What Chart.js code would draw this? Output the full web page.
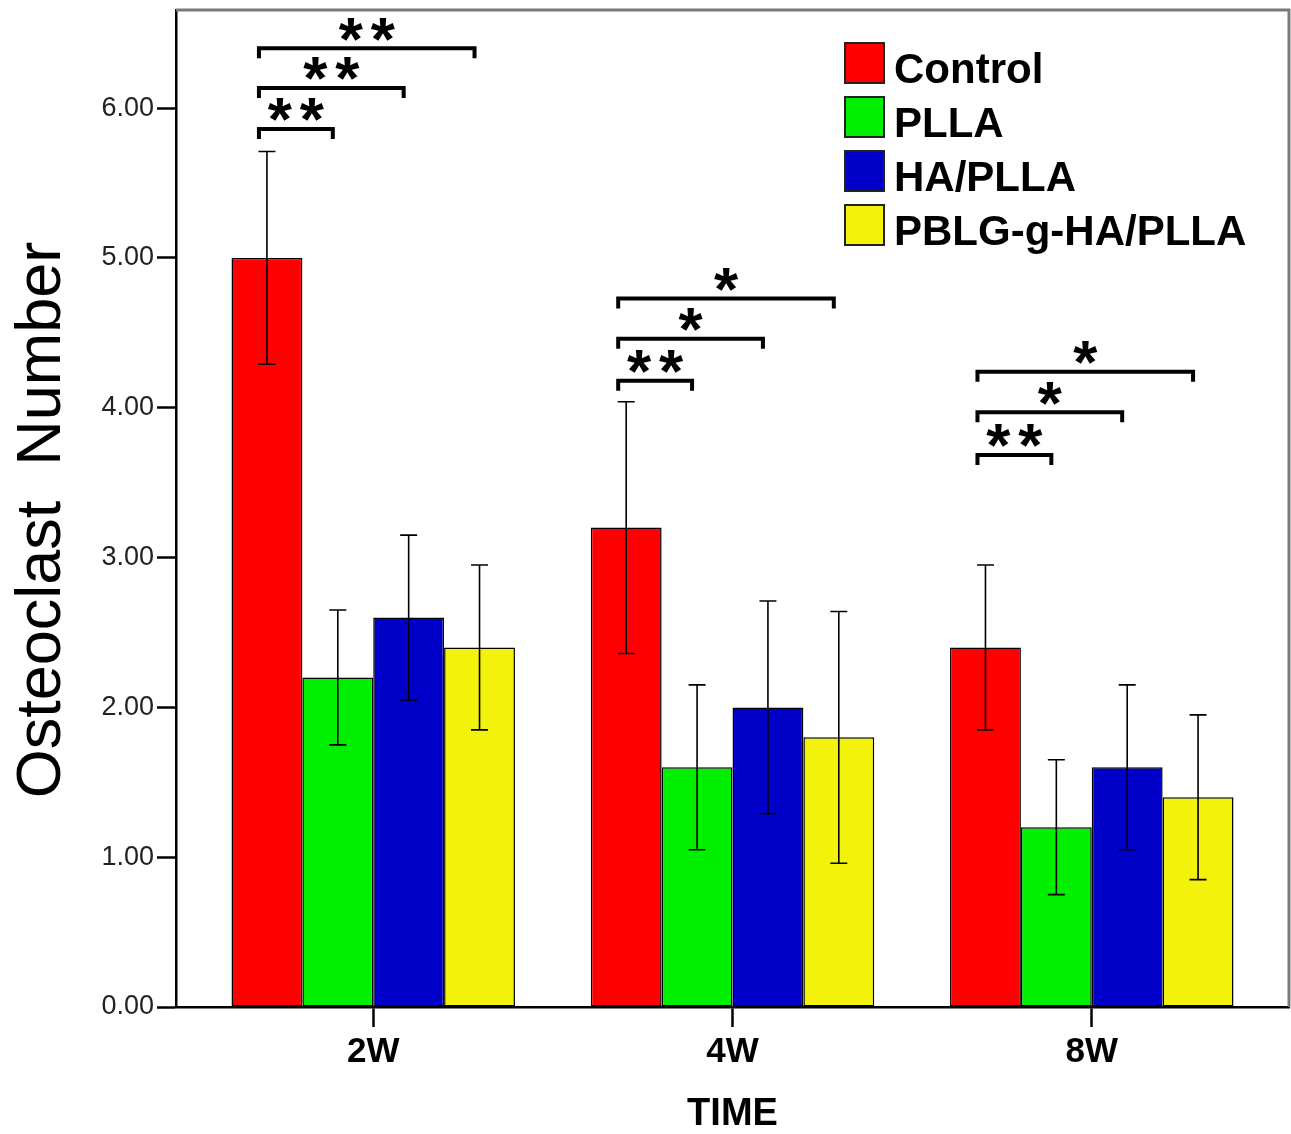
<!DOCTYPE html>
<html><head><meta charset="utf-8">
<script src="https://cdn.jsdelivr.net/npm/chart.js@4.4.1/dist/chart.umd.min.js"></script>
<style>html,body{margin:0;padding:0;background:#fff;overflow:hidden}canvas{display:block}</style>
</head><body>
<canvas id="c" width="1291" height="1134"></canvas>
<script>
const categories = ['2W', '4W', '8W'];
const seriesNames = ['Control', 'PLLA', 'HA/PLLA', 'PBLG-g-HA/PLLA'];
const controlMeans = [5.0, 3.2, 2.4];
const pllaMeans = [2.2, 1.6, 1.2];
const haPllaMeans = [2.6, 2.0, 1.6];
const pblgMeans = [2.4, 1.8, 1.4];
const controlErr = [0.71, 0.84, 0.55];
const pllaErr = [0.45, 0.55, 0.45];
const haPllaErr = [0.55, 0.71, 0.55];
const pblgErr = [0.55, 0.84, 0.55];
const yTicks = [0, 1, 2, 3, 4, 5, 6];
const yMax = 6.655;
const yTitle = 'Osteoclast  Number';
const xTitle = 'TIME';
// significance brackets: Control compared with series 1, 2, 3 at each time point
const sigTargets = [1, 2, 3];
const sigLabels2W = ['**', '**', '**'];
const sigLabels4W = ['**', '*', '*'];
const sigLabels8W = ['**', '*', '*'];
const sigLevels2W = [5.86, 6.135, 6.40];
const sigLevels4W = [4.18, 4.46, 4.73];
const sigLevels8W = [3.685, 3.97, 4.24];

const colors = ['#ff0000', '#00f000', '#0000c8', '#f2f20a'];
const FONT = "'Liberation Sans', Arial, sans-serif";
Chart.defaults.font.family = FONT;

const allMeans = [controlMeans, pllaMeans, haPllaMeans, pblgMeans];
const allErr = [controlErr, pllaErr, haPllaErr, pblgErr];
const sigLabels = [sigLabels2W, sigLabels4W, sigLabels8W];
const sigLevels = [sigLevels2W, sigLevels4W, sigLevels8W];

const datasets = seriesNames.map((name, s) => ({
  label: name,
  data: categories.map((c, i) => ({x: i + 1, y: allMeans[s][i]})),
  errors: allErr[s],
  backgroundColor: colors[s],
  borderColor: '#000',
  borderWidth: 1.5,
  borderSkipped: false,
  categoryPercentage: 0.789,
  barPercentage: 1.0
}));

const errorBarPlugin = {
  id: 'errorBars',
  afterDatasetsDraw(chart) {
    const ctx = chart.ctx, ys = chart.scales.y;
    ctx.save();
    ctx.strokeStyle = '#000';
    ctx.lineWidth = 1.6;
    chart.data.datasets.forEach((ds, s) => {
      const meta = chart.getDatasetMeta(s);
      meta.data.forEach((el, i) => {
        const v = ds.data[i].y, e = ds.errors[i];
        const top = ys.getPixelForValue(v + e), bot = ys.getPixelForValue(v - e);
        const x = el.x, cap = 8.5;
        ctx.beginPath();
        ctx.moveTo(x, top); ctx.lineTo(x, bot);
        ctx.moveTo(x - cap, top); ctx.lineTo(x + cap, top);
        ctx.moveTo(x - cap, bot); ctx.lineTo(x + cap, bot);
        ctx.stroke();
      });
    });
    ctx.restore();
  }
};

const sigPlugin = {
  id: 'sig',
  afterDatasetsDraw(chart) {
    const ctx = chart.ctx, ys = chart.scales.y;
    const m0 = chart.getDatasetMeta(0);
    ctx.save();
    ctx.strokeStyle = '#000';
    ctx.fillStyle = '#000';
    ctx.lineWidth = 4;
    ctx.lineCap = 'butt';
    const fs = 62;
    ctx.font = 'bold ' + fs + 'px ' + FONT;
    ctx.textAlign = 'center';
    ctx.textBaseline = 'alphabetic';
    categories.forEach((c, ci) => {
      sigTargets.forEach((t, k) => {
        const x1 = m0.data[ci].x - 8;
        const x2 = chart.getDatasetMeta(t).data[ci].x - 5;
        const y = ys.getPixelForValue(sigLevels[ci][k]);
        ctx.beginPath();
        ctx.moveTo(x1, y + 10); ctx.lineTo(x1, y); ctx.lineTo(x2, y); ctx.lineTo(x2, y + 10);
        ctx.stroke();
        const label = sigLabels[ci][k];
        const n = label.length, pitch = 32;
        const cx = (x1 + x2) / 2;
        const base = y - 24 + 0.57 * fs;
        for (let j = 0; j < n; j++) {
          ctx.fillText('*', cx + (j - (n - 1) / 2) * pitch, base);
        }
      });
    });
    ctx.restore();
  }
};

const decorPlugin = {
  id: 'decor',
  afterDraw(chart) {
    const ctx = chart.ctx, a = chart.chartArea;
    ctx.save();
    // frame
    ctx.strokeStyle = '#7a7a7a';
    ctx.lineWidth = 3;
    ctx.beginPath();
    ctx.moveTo(a.left, a.top); ctx.lineTo(a.right, a.top); ctx.lineTo(a.right, a.bottom);
    ctx.stroke();
    // legend
    ctx.font = 'bold 42px ' + FONT;
    ctx.textAlign = 'left';
    ctx.textBaseline = 'alphabetic';
    chart.data.datasets.forEach((ds, i) => {
      const bx = a.right - 444, by = a.top + 33 + i * 54;
      ctx.fillStyle = ds.backgroundColor;
      ctx.fillRect(bx, by, 39, 40);
      ctx.strokeStyle = '#222';
      ctx.lineWidth = 2;
      ctx.strokeRect(bx, by, 39, 40);
      ctx.fillStyle = '#000';
      ctx.fillText(ds.label, bx + 49, by + 40);
    });
    // y title
    ctx.translate(60, 520);
    ctx.rotate(-Math.PI / 2);
    ctx.font = '63px ' + FONT;
    ctx.textAlign = 'center';
    ctx.fillStyle = '#000';
    ctx.fillText(yTitle, 0, 0);
    ctx.restore();
  }
};

new Chart(document.getElementById('c'), {
  type: 'bar',
  data: {datasets},
  options: {
    responsive: false,
    animation: false,
    devicePixelRatio: 1,
    layout: {padding: {top: 10, right: 2, left: 0, bottom: 0}},
    plugins: {legend: {display: false}, tooltip: {enabled: false}},
    scales: {
      x: {
        type: 'linear',
        bounds: 'data',
        offset: false,
        min: 0.451,
        max: 3.549,
        afterBuildTicks: s => { s.ticks = categories.map((c, i) => ({value: i + 1})); },
        afterFit: s => { s.height = 127; s.paddingLeft = 0; s.paddingRight = 0; },
        ticks: {
          callback: v => categories[Math.round(v) - 1] || '',
          font: {size: 35, weight: 'bold'},
          color: '#000',
          padding: 4,
          maxRotation: 0,
          autoSkip: false
        },
        grid: {offset: false, drawOnChartArea: false, drawTicks: true, tickLength: 20, tickColor: '#000', tickWidth: 2.5},
        border: {color: '#000', width: 2.5},
        title: {display: true, text: xTitle, font: {size: 38, weight: 'bold', lineHeight: 1}, color: '#000', padding: 0}
      },
      y: {
        type: 'linear',
        bounds: 'data',
        min: 0,
        max: yMax,
        afterBuildTicks: s => { s.ticks = yTicks.map(v => ({value: v})); },
        afterFit: s => { s.width = 176; s.paddingTop = 0; s.paddingBottom = 0; },
        ticks: {
          callback: v => Number(v).toFixed(2),
          font: {size: 27},
          color: '#222',
          padding: 3
        },
        grid: {drawOnChartArea: false, drawTicks: true, tickLength: 19, tickColor: '#000', tickWidth: 2.5},
        border: {color: '#000', width: 2.5}
      }
    }
  },
  plugins: [errorBarPlugin, sigPlugin, decorPlugin]
});
</script>
</body></html>
